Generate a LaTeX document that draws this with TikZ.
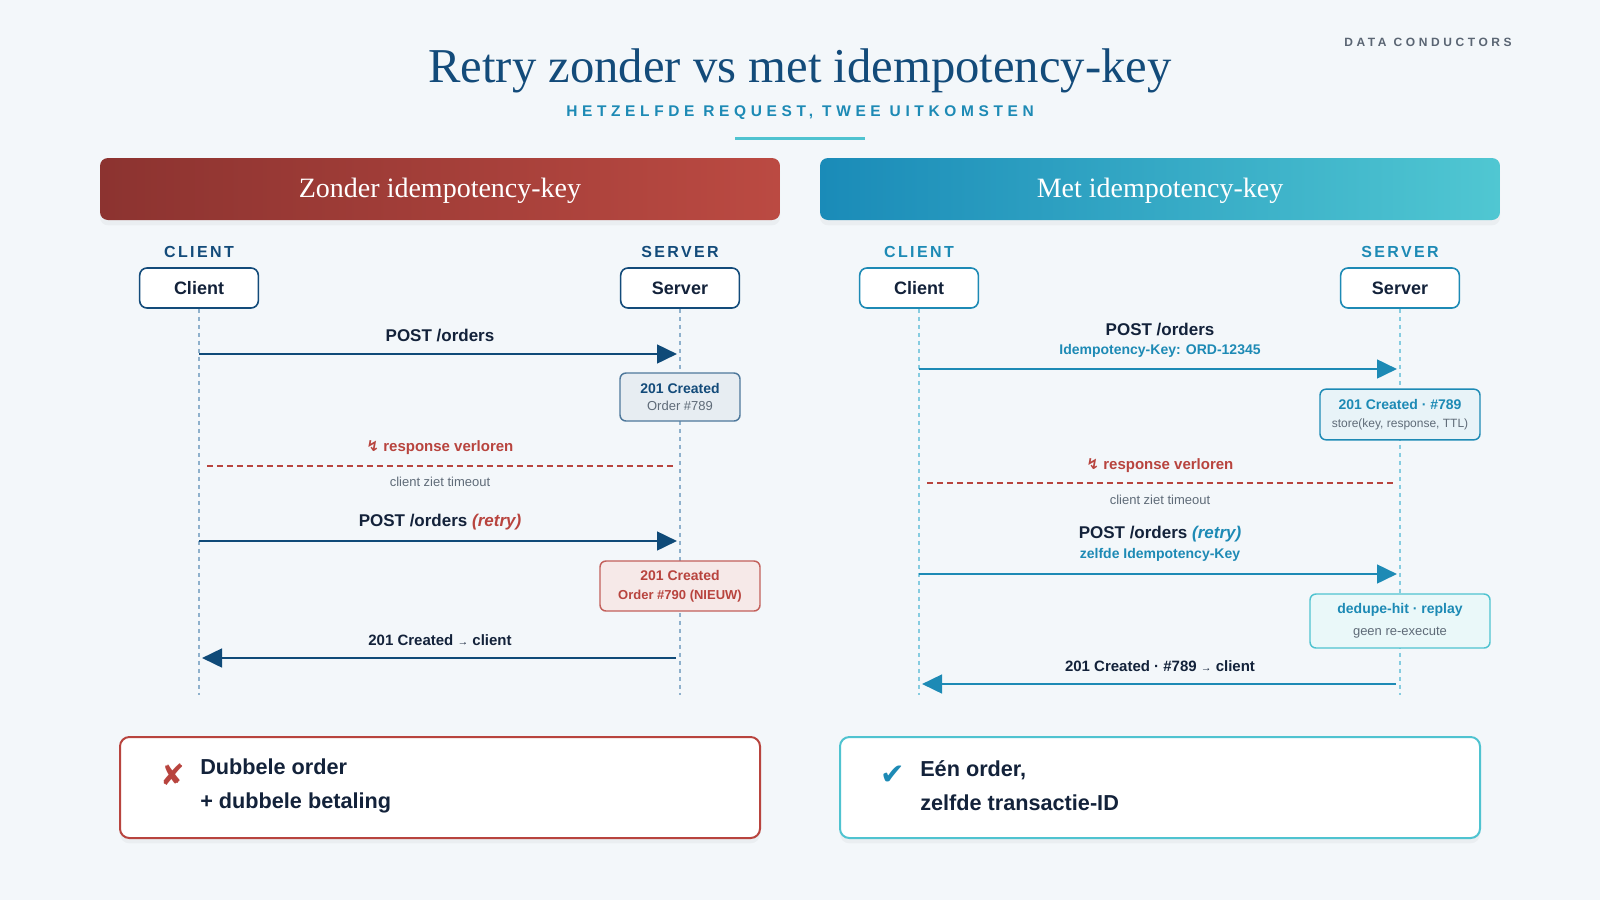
\documentclass[tikz,border=0pt]{standalone}
\usepackage{fontspec}
\setmainfont{Liberation Sans}
\newfontfamily\serifface{Liberation Serif}
\newfontfamily\symbface{DejaVu Sans}
\newfontfamily\capsface[LetterSpace=15]{Liberation Sans}
\newfontfamily\widecaps[LetterSpace=30]{Liberation Sans}
\usetikzlibrary{arrows.meta,shadows}

\definecolor{bg}{HTML}{F3F7FA}
\definecolor{navy}{HTML}{134B7A}
\definecolor{ink}{HTML}{13223A}
\definecolor{muted}{HTML}{5F6B78}
\definecolor{brand}{HTML}{5A6573}
\definecolor{rust}{HTML}{B8443E}
\definecolor{rustdark}{HTML}{8C3330}
\definecolor{rustlight}{HTML}{BB4A42}
\definecolor{teal}{HTML}{1D8AB5}
\definecolor{tealdark}{HTML}{1A8BB8}
\definecolor{teallight}{HTML}{50C7D2}
\definecolor{aqua}{HTML}{4FC3D0}
\definecolor{zline}{HTML}{8FB1CC}
\definecolor{mline}{HTML}{86CCE0}
\definecolor{zarrow}{HTML}{0F4A78}

\newcommand\zap{{\symbface ↯}}
\newcommand\thinarrow{{\fontsize{8}{8}\selectfont →}}

\tikzset{
  banner/.style={minimum width=510pt, minimum height=46.5pt, rounded corners=6pt,
    text height=15pt, text depth=3pt,
    text=white, font=\serifface\fontsize{21}{21}\selectfont,
    drop shadow={opacity=0.07, shadow xshift=0pt, shadow yshift=-4pt}},
  role/.style={inner sep=0pt, font=\bfseries\capsface\fontsize{12}{12}\selectfont},
  actor/.style={draw, fill=white, line width=1.2pt, rounded corners=5.5pt,
    minimum width=89pt, minimum height=30pt, text=ink,
    font=\bfseries\fontsize{13.5}{13.5}\selectfont},
  lifeline/.style={line width=1.1pt, dash pattern=on 3pt off 3pt},
  msg/.style={line width=2pt, -{Triangle[length=15pt,width=14pt]}},
  msglabel/.style={inner sep=0pt, text=ink, font=\bfseries\fontsize{12.75}{12.75}\selectfont},
  replylabel/.style={inner sep=0pt, text=ink, font=\bfseries\fontsize{11.25}{11.25}\selectfont},
  keylabel/.style={inner sep=0pt, text=teal, font=\bfseries\fontsize{10.5}{10.5}\selectfont},
  lostlabel/.style={inner sep=0pt, text=rust, font=\bfseries\fontsize{11.25}{11.25}\selectfont},
  note/.style={inner sep=0pt, text=muted, font=\fontsize{9.75}{9.75}\selectfont},
  lost/.style={draw=rust, line width=1.5pt, dash pattern=on 4.5pt off 3pt},
  state/.style={draw, line width=1.1pt, rounded corners=4.5pt, align=center, inner sep=0pt},
  verdict/.style={draw, fill=white, line width=1.5pt, rounded corners=7pt,
    minimum width=480pt, minimum height=75.75pt,
    drop shadow={opacity=0.07, shadow xshift=0pt, shadow yshift=-4pt}},
  verdicttext/.style={anchor=west, inner sep=0pt, align=left, text=ink,
    font=\bfseries\fontsize{16.25}{25.5}\selectfont},
  outcome/.style={inner sep=0pt, font=\symbface\fontsize{22}{22}\selectfont}
}

\begin{document}
\begin{tikzpicture}[x=0.75pt,y=-0.75pt]
\fill[bg] (0,0) rectangle (1600,900);
\useasboundingbox (0,0) rectangle (1600,900);

\node[inner sep=0pt, text=brand, font=\bfseries\widecaps\fontsize{9}{9}\selectfont] (brandname) at (1428,42) {DATA CONDUCTORS};
\node[text=navy, inner sep=0pt, font=\serifface\fontsize{36.5}{36.5}\selectfont] (title) at (800,71) {Retry zonder vs met idempotency-key};
\node[inner sep=0pt, text=teal, font=\bfseries\widecaps\fontsize{11.6}{11.6}\selectfont] (subtitle) at (800,113) {HETZELFDE REQUEST, TWEE UITKOMSTEN};
\draw[aqua, line width=2.25pt] (735,138) -- (865,138);

\node[banner, left color=rustdark, right color=rustlight] (zb) at (440,189) {Zonder idempotency-key};
\node[banner, left color=tealdark, right color=teallight] (mb) at (1160,189) {Met idempotency-key};

% zonder
\node[role, text=navy] (zcl) at (199,252) {CLIENT};
\node[role, text=navy] (zsl) at (680,252) {SERVER};
\node[actor, draw=navy] (zc) at (199,288) {Client};
\node[actor, draw=navy] (zs) at (680,288) {Server};
\coordinate (zce) at (199,695);
\coordinate (zse) at (680,695);
\draw[lifeline, zline] (zc) -- (zce);
\draw[lifeline, zline] (zs) -- (zse);

\node[msglabel] (zp1) at (440,336) {POST /orders};
\coordinate (za1) at (199,354);
\coordinate (zb1) at (677,354);
\draw[msg, zarrow] (za1) -- (zb1);
\node[state, draw=navy!75, fill=navy!10, minimum width=90pt, minimum height=36pt, font=\fontsize{10}{12.75}\selectfont] (zr1) at (680,397)
  {{\bfseries\fontsize{10.5}{12.75}\selectfont\color{navy}201 Created}\\{\fontsize{9.75}{12.75}\selectfont\color{muted}Order \#789}};

\node[lostlabel] (zlost) at (440,448) {\zap\ response verloren};
\coordinate (zl1) at (207,466);
\coordinate (zl2) at (677,466);
\draw[lost] (zl1) -- (zl2);
\node[note] (zto) at (440,482) {client ziet timeout};

\node[msglabel] (zp2) at (440,522) {POST /orders \textcolor{rust}{\textit{(retry)}}};
\coordinate (za2) at (199,541);
\coordinate (zb2) at (677,541);
\draw[msg, zarrow] (za2) -- (zb2);
\node[state, draw=rust!85, fill=rust!12, minimum width=120pt, minimum height=37.5pt, text=rust, font=\bfseries\fontsize{10}{14.25}\selectfont] (zr2) at (680,586)
  {{\fontsize{10.5}{14.25}\selectfont 201 Created}\\{\fontsize{9.75}{14.25}\selectfont Order \#790 (NIEUW)}};

\node[replylabel] (zp3) at (440,640) {201 Created \thinarrow\ client};
\coordinate (zb3) at (676,658);
\coordinate (za3) at (202,658);
\draw[msg, zarrow] (zb3) -- (za3);

% met
\node[role, text=teal] (mcl) at (919,252) {CLIENT};
\node[role, text=teal] (msl) at (1400,252) {SERVER};
\node[actor, draw=teal] (mc) at (919,288) {Client};
\node[actor, draw=teal] (ms) at (1400,288) {Server};
\coordinate (mce) at (919,695);
\coordinate (mse) at (1400,695);
\draw[lifeline, mline] (mc) -- (mce);
\draw[lifeline, mline] (ms) -- (mse);

\node[msglabel] (mp1) at (1160,330) {POST /orders};
\node[keylabel] (mk1) at (1160,351) {Idempotency-Key: ORD-12345};
\coordinate (ma1) at (919,369);
\coordinate (mb1) at (1397,369);
\draw[msg, teal] (ma1) -- (mb1);
\node[state, draw=teal, fill=teal!10, minimum width=120pt, minimum height=38pt, font=\fontsize{10}{13.5}\selectfont] (mr1) at (1400,414.5)
  {{\bfseries\fontsize{10.5}{13.5}\selectfont\color{teal}201 Created · \#789}\\{\fontsize{9}{13.5}\selectfont\color{muted}store(key, response, TTL)}};

\node[lostlabel] (mlost) at (1160,466) {\zap\ response verloren};
\coordinate (ml1) at (927,483);
\coordinate (ml2) at (1397,483);
\draw[lost] (ml1) -- (ml2);
\node[note] (mto) at (1160,500) {client ziet timeout};

\node[msglabel] (mp2) at (1160,534) {POST /orders \textcolor{teal}{\textit{(retry)}}};
\node[keylabel] (mk2) at (1160,555) {zelfde Idempotency-Key};
\coordinate (ma2) at (919,574);
\coordinate (mb2) at (1397,574);
\draw[msg, teal] (ma2) -- (mb2);
\node[state, draw=aqua, fill=aqua!12, minimum width=135pt, minimum height=40.5pt, font=\fontsize{10}{16.5}\selectfont] (mr2) at (1400,621)
  {{\bfseries\fontsize{10.5}{16.5}\selectfont\color{teal}dedupe-hit · replay}\\{\fontsize{9.75}{16.5}\selectfont\color{muted}geen re-execute}};

\node[replylabel] (mp3) at (1160,666) {201 Created · \#789 \thinarrow\ client};
\coordinate (mb3) at (1396,684);
\coordinate (ma3) at (922,684);
\draw[msg, teal] (mb3) -- (ma3);

% uitkomst
\node[verdict, draw=rust] (zv) at (440,787.5) {};
\node[outcome, text=rust] (zx) at (173,775) {✘};
\node[verdicttext] (zvt) at (200,786) {Dubbele order\\+ dubbele betaling};
\node[verdict, draw=aqua] (mv) at (1160,787.5) {};
\node[outcome, text=teal] (mx) at (893,775) {✔};
\node[verdicttext] (mvt) at (920,786) {Eén order,\\zelfde transactie-ID};
\end{tikzpicture}
\end{document}
